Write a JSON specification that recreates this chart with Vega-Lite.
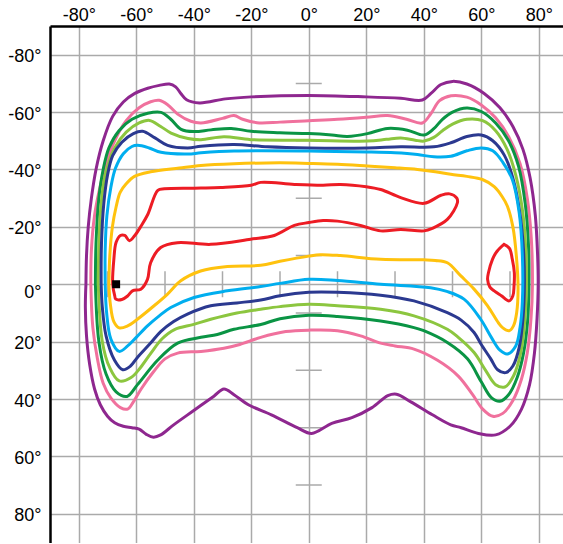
{
  "$schema": "https://vega.github.io/schema/vega-lite/v6.json",
  "width": 513,
  "height": 516.5,
  "autosize": {"type": "none"},
  "padding": {"left": 50, "top": 26, "right": 0, "bottom": 0},
  "config": {
    "view": {"stroke": null},
    "axis": {
      "labelFont": "Liberation Sans",
      "labelFontSize": 18,
      "labelColor": "#000000",
      "grid": true,
      "gridColor": "#aaaaaa",
      "gridWidth": 1.5,
      "ticks": false,
      "domain": true,
      "domainColor": "#000000",
      "domainWidth": 2.5,
      "title": null
    }
  },
  "datasets": {
    "ticksH": [{"lon": 0, "lat": -70}, {"lon": 0, "lat": -50}, {"lon": 0, "lat": -30}, {"lon": 0, "lat": -10}, {"lon": 0, "lat": 10}, {"lon": 0, "lat": 30}, {"lon": 0, "lat": 50}, {"lon": 0, "lat": 70}],
    "ticksV": [{"lon": -70, "lat": 0}, {"lon": -50, "lat": 0}, {"lon": -30, "lat": 0}, {"lon": -10, "lat": 0}, {"lon": 10, "lat": 0}, {"lon": 30, "lat": 0}, {"lon": 50, "lat": 0}, {"lon": 70, "lat": 0}],
    "marker": [{"lon": -67, "lat": 0}],
    "contours": [
      {"s":"P","i":0,"lon":-77.5,"lat":0},{"s":"P","i":1,"lon":-77.3,"lat":-10},{"s":"P","i":2,"lon":-76.7,"lat":-20},{"s":"P","i":3,"lon":-75.6,"lat":-30},{"s":"P","i":4,"lon":-74,"lat":-40},{"s":"P","i":5,"lon":-71.5,"lat":-50},{"s":"P","i":6,"lon":-68.2,"lat":-58.5},{"s":"P","i":7,"lon":-64.5,"lat":-63.5},{"s":"P","i":8,"lon":-60.5,"lat":-66.5},{"s":"P","i":9,"lon":-56,"lat":-68.3},{"s":"P","i":10,"lon":-52,"lat":-69.3},{"s":"P","i":11,"lon":-48.5,"lat":-69.8},{"s":"P","i":12,"lon":-46.3,"lat":-68.8},{"s":"P","i":13,"lon":-44.5,"lat":-66.5},{"s":"P","i":14,"lon":-42.5,"lat":-64.3},{"s":"P","i":15,"lon":-38,"lat":-63.2},{"s":"P","i":16,"lon":-29,"lat":-64.6},{"s":"P","i":17,"lon":-20,"lat":-65.3},{"s":"P","i":18,"lon":0,"lat":-65.8},{"s":"P","i":19,"lon":20,"lat":-65.3},{"s":"P","i":20,"lon":32,"lat":-64.8},{"s":"P","i":21,"lon":39.5,"lat":-64.2},{"s":"P","i":22,"lon":42.5,"lat":-66.5},{"s":"P","i":23,"lon":46,"lat":-69.6},{"s":"P","i":24,"lon":50,"lat":-70.7},{"s":"P","i":25,"lon":55,"lat":-69.8},{"s":"P","i":26,"lon":61,"lat":-66.5},{"s":"P","i":27,"lon":66.5,"lat":-61.5},{"s":"P","i":28,"lon":71,"lat":-55},{"s":"P","i":29,"lon":74.5,"lat":-47},{"s":"P","i":30,"lon":77,"lat":-37},{"s":"P","i":31,"lon":78.8,"lat":-24},{"s":"P","i":32,"lon":79.6,"lat":-10},{"s":"P","i":33,"lon":79.8,"lat":0},{"s":"P","i":34,"lon":79.4,"lat":12},{"s":"P","i":35,"lon":78.5,"lat":24},{"s":"P","i":36,"lon":76.8,"lat":35},{"s":"P","i":37,"lon":74,"lat":43.5},{"s":"P","i":38,"lon":70,"lat":49.5},{"s":"P","i":39,"lon":65,"lat":52.5},{"s":"P","i":40,"lon":59,"lat":52},{"s":"P","i":41,"lon":53,"lat":50},{"s":"P","i":42,"lon":49.4,"lat":49},{"s":"P","i":43,"lon":43,"lat":45.5},{"s":"P","i":44,"lon":35.5,"lat":41},{"s":"P","i":45,"lon":30.5,"lat":38.3},{"s":"P","i":46,"lon":27.5,"lat":38.8},{"s":"P","i":47,"lon":22,"lat":43},{"s":"P","i":48,"lon":15,"lat":46.5},{"s":"P","i":49,"lon":8,"lat":48.5},{"s":"P","i":50,"lon":1,"lat":52},{"s":"P","i":51,"lon":-4,"lat":50},{"s":"P","i":52,"lon":-13,"lat":45.5},{"s":"P","i":53,"lon":-21,"lat":42},{"s":"P","i":54,"lon":-26,"lat":38.5},{"s":"P","i":55,"lon":-29.5,"lat":36.5},{"s":"P","i":56,"lon":-33,"lat":39},{"s":"P","i":57,"lon":-40,"lat":44},{"s":"P","i":58,"lon":-47,"lat":49},{"s":"P","i":59,"lon":-51.5,"lat":52.5},{"s":"P","i":60,"lon":-54,"lat":53.3},{"s":"P","i":61,"lon":-56.5,"lat":52.3},{"s":"P","i":62,"lon":-59,"lat":50.5},{"s":"P","i":63,"lon":-61.5,"lat":50},{"s":"P","i":64,"lon":-64.5,"lat":49.5},{"s":"P","i":65,"lon":-67.5,"lat":48.3},{"s":"P","i":66,"lon":-70,"lat":46},{"s":"P","i":67,"lon":-72.5,"lat":42},{"s":"P","i":68,"lon":-74.5,"lat":36.5},{"s":"P","i":69,"lon":-76.2,"lat":28},{"s":"P","i":70,"lon":-77.3,"lat":18},{"s":"P","i":71,"lon":-77.7,"lat":8},{"s":"P","i":72,"lon":-77.5,"lat":0},

      {"s":"K","i":0,"lon":-75.8,"lat":0},{"s":"K","i":1,"lon":-75.6,"lat":-12},{"s":"K","i":2,"lon":-74.5,"lat":-24},{"s":"K","i":3,"lon":-72.8,"lat":-33},{"s":"K","i":4,"lon":-70.5,"lat":-42},{"s":"K","i":5,"lon":-67.5,"lat":-50},{"s":"K","i":6,"lon":-63.5,"lat":-57},{"s":"K","i":7,"lon":-59,"lat":-61.5},{"s":"K","i":8,"lon":-55,"lat":-63.6},{"s":"K","i":9,"lon":-52,"lat":-64.1},{"s":"K","i":10,"lon":-49,"lat":-62.5},{"s":"K","i":11,"lon":-45.6,"lat":-59.3},{"s":"K","i":12,"lon":-41,"lat":-56.8},{"s":"K","i":13,"lon":-37.5,"lat":-56.2},{"s":"K","i":14,"lon":-30,"lat":-57.8},{"s":"K","i":15,"lon":-26,"lat":-58.8},{"s":"K","i":16,"lon":-23,"lat":-57.5},{"s":"K","i":17,"lon":-18,"lat":-56.3},{"s":"K","i":18,"lon":-10,"lat":-56.5},{"s":"K","i":19,"lon":0,"lat":-57},{"s":"K","i":20,"lon":10,"lat":-57.5},{"s":"K","i":21,"lon":20,"lat":-58.2},{"s":"K","i":22,"lon":27.4,"lat":-58.8},{"s":"K","i":23,"lon":34,"lat":-57.5},{"s":"K","i":24,"lon":39.5,"lat":-56.2},{"s":"K","i":25,"lon":42.5,"lat":-59.5},{"s":"K","i":26,"lon":45.5,"lat":-64},{"s":"K","i":27,"lon":49.5,"lat":-65.7},{"s":"K","i":28,"lon":55,"lat":-65.2},{"s":"K","i":29,"lon":60,"lat":-62.5},{"s":"K","i":30,"lon":65,"lat":-58},{"s":"K","i":31,"lon":69.5,"lat":-51.5},{"s":"K","i":32,"lon":73.5,"lat":-42},{"s":"K","i":33,"lon":76,"lat":-30},{"s":"K","i":34,"lon":77.4,"lat":-16},{"s":"K","i":35,"lon":77.8,"lat":0},{"s":"K","i":36,"lon":77.3,"lat":12},{"s":"K","i":37,"lon":76,"lat":24},{"s":"K","i":38,"lon":74,"lat":33},{"s":"K","i":39,"lon":71,"lat":40.5},{"s":"K","i":40,"lon":67.5,"lat":45},{"s":"K","i":41,"lon":64,"lat":46},{"s":"K","i":42,"lon":60.5,"lat":43.5},{"s":"K","i":43,"lon":57,"lat":38.5},{"s":"K","i":44,"lon":52,"lat":32},{"s":"K","i":45,"lon":44.8,"lat":26.5},{"s":"K","i":46,"lon":36.6,"lat":22.6},{"s":"K","i":47,"lon":30,"lat":21.5},{"s":"K","i":48,"lon":25,"lat":20.5},{"s":"K","i":49,"lon":18,"lat":18},{"s":"K","i":50,"lon":10,"lat":16.2},{"s":"K","i":51,"lon":0,"lat":16},{"s":"K","i":52,"lon":-8,"lat":16.5},{"s":"K","i":53,"lon":-16.7,"lat":18.5},{"s":"K","i":54,"lon":-24,"lat":21},{"s":"K","i":55,"lon":-29.5,"lat":22.3},{"s":"K","i":56,"lon":-37.5,"lat":23.4},{"s":"K","i":57,"lon":-45.6,"lat":24},{"s":"K","i":58,"lon":-50,"lat":26},{"s":"K","i":59,"lon":-54,"lat":30.5},{"s":"K","i":60,"lon":-58.3,"lat":36.5},{"s":"K","i":61,"lon":-61,"lat":41},{"s":"K","i":62,"lon":-63,"lat":43.5},{"s":"K","i":63,"lon":-65.5,"lat":43},{"s":"K","i":64,"lon":-68.8,"lat":39.7},{"s":"K","i":65,"lon":-71.5,"lat":34.5},{"s":"K","i":66,"lon":-73.5,"lat":26},{"s":"K","i":67,"lon":-75.1,"lat":15},{"s":"K","i":68,"lon":-75.8,"lat":0},

      {"s":"G","i":0,"lon":-74.2,"lat":0},{"s":"G","i":1,"lon":-74,"lat":-14},{"s":"G","i":2,"lon":-73,"lat":-30},{"s":"G","i":3,"lon":-71.5,"lat":-40},{"s":"G","i":4,"lon":-69.5,"lat":-47.5},{"s":"G","i":5,"lon":-66,"lat":-53.5},{"s":"G","i":6,"lon":-61.5,"lat":-57.5},{"s":"G","i":7,"lon":-56,"lat":-59.6},{"s":"G","i":8,"lon":-51.4,"lat":-59.9},{"s":"G","i":9,"lon":-48,"lat":-57.5},{"s":"G","i":10,"lon":-44.4,"lat":-54},{"s":"G","i":11,"lon":-40,"lat":-53.2},{"s":"G","i":12,"lon":-34,"lat":-53.8},{"s":"G","i":13,"lon":-27,"lat":-54.3},{"s":"G","i":14,"lon":-20,"lat":-53.3},{"s":"G","i":15,"lon":-10,"lat":-52.8},{"s":"G","i":16,"lon":0,"lat":-52.5},{"s":"G","i":17,"lon":8,"lat":-52},{"s":"G","i":18,"lon":13.5,"lat":-51.5},{"s":"G","i":19,"lon":20.4,"lat":-52.5},{"s":"G","i":20,"lon":27.4,"lat":-54.3},{"s":"G","i":21,"lon":34.3,"lat":-53.7},{"s":"G","i":22,"lon":40.1,"lat":-52},{"s":"G","i":23,"lon":43.5,"lat":-54.2},{"s":"G","i":24,"lon":46.5,"lat":-57.5},{"s":"G","i":25,"lon":50,"lat":-60},{"s":"G","i":26,"lon":55,"lat":-61.4},{"s":"G","i":27,"lon":60,"lat":-60.2},{"s":"G","i":28,"lon":65,"lat":-56.2},{"s":"G","i":29,"lon":69.5,"lat":-50},{"s":"G","i":30,"lon":73,"lat":-41},{"s":"G","i":31,"lon":75.3,"lat":-28},{"s":"G","i":32,"lon":76.4,"lat":-14},{"s":"G","i":33,"lon":76.6,"lat":0},{"s":"G","i":34,"lon":76.1,"lat":13},{"s":"G","i":35,"lon":74.7,"lat":24},{"s":"G","i":36,"lon":72.5,"lat":32.5},{"s":"G","i":37,"lon":69.5,"lat":38.5},{"s":"G","i":38,"lon":66.5,"lat":40.8},{"s":"G","i":39,"lon":63.5,"lat":39.5},{"s":"G","i":40,"lon":60,"lat":34},{"s":"G","i":41,"lon":55.2,"lat":26},{"s":"G","i":42,"lon":48.2,"lat":20.3},{"s":"G","i":43,"lon":40,"lat":16.2},{"s":"G","i":44,"lon":36.6,"lat":15.1},{"s":"G","i":45,"lon":25,"lat":12.8},{"s":"G","i":46,"lon":10,"lat":11.2},{"s":"G","i":47,"lon":0,"lat":10.8},{"s":"G","i":48,"lon":-10,"lat":12},{"s":"G","i":49,"lon":-16.7,"lat":14},{"s":"G","i":50,"lon":-26,"lat":15.7},{"s":"G","i":51,"lon":-31.8,"lat":17.5},{"s":"G","i":52,"lon":-37.5,"lat":18.5},{"s":"G","i":53,"lon":-45.6,"lat":20.5},{"s":"G","i":54,"lon":-52.5,"lat":26.4},{"s":"G","i":55,"lon":-59.5,"lat":34.9},{"s":"G","i":56,"lon":-63.2,"lat":39.1},{"s":"G","i":57,"lon":-67,"lat":37.5},{"s":"G","i":58,"lon":-70.5,"lat":31.3},{"s":"G","i":59,"lon":-73,"lat":20},{"s":"G","i":60,"lon":-74.2,"lat":0},

      {"s":"L","i":0,"lon":-73.2,"lat":0},{"s":"L","i":1,"lon":-73,"lat":-14},{"s":"L","i":2,"lon":-72.3,"lat":-27},{"s":"L","i":3,"lon":-70.8,"lat":-38},{"s":"L","i":4,"lon":-67.5,"lat":-47.5},{"s":"L","i":5,"lon":-63.5,"lat":-53},{"s":"L","i":6,"lon":-59,"lat":-56.2},{"s":"L","i":7,"lon":-55.4,"lat":-57.1},{"s":"L","i":8,"lon":-51.5,"lat":-55},{"s":"L","i":9,"lon":-47.9,"lat":-52.7},{"s":"L","i":10,"lon":-42,"lat":-50.8},{"s":"L","i":11,"lon":-37.5,"lat":-50.4},{"s":"L","i":12,"lon":-29.5,"lat":-51.4},{"s":"L","i":13,"lon":-20.2,"lat":-50.4},{"s":"L","i":14,"lon":0,"lat":-50.2},{"s":"L","i":15,"lon":20.4,"lat":-49.9},{"s":"L","i":16,"lon":27,"lat":-50.5},{"s":"L","i":17,"lon":32,"lat":-51},{"s":"L","i":18,"lon":37,"lat":-50.2},{"s":"L","i":19,"lon":40.1,"lat":-49.9},{"s":"L","i":20,"lon":43.5,"lat":-51.2},{"s":"L","i":21,"lon":46.5,"lat":-53.5},{"s":"L","i":22,"lon":50,"lat":-55.8},{"s":"L","i":23,"lon":55,"lat":-57.5},{"s":"L","i":24,"lon":60.5,"lat":-57},{"s":"L","i":25,"lon":65,"lat":-53.5},{"s":"L","i":26,"lon":69,"lat":-47},{"s":"L","i":27,"lon":72,"lat":-38},{"s":"L","i":28,"lon":74.3,"lat":-26},{"s":"L","i":29,"lon":75.5,"lat":-12},{"s":"L","i":30,"lon":75.7,"lat":0},{"s":"L","i":31,"lon":75.1,"lat":13},{"s":"L","i":32,"lon":73.7,"lat":24},{"s":"L","i":33,"lon":71.2,"lat":32},{"s":"L","i":34,"lon":68.2,"lat":35.8},{"s":"L","i":35,"lon":65,"lat":35},{"s":"L","i":36,"lon":61.5,"lat":30},{"s":"L","i":37,"lon":57.5,"lat":23.8},{"s":"L","i":38,"lon":52,"lat":18.5},{"s":"L","i":39,"lon":48.2,"lat":15.7},{"s":"L","i":40,"lon":36.6,"lat":11},{"s":"L","i":41,"lon":25,"lat":8.7},{"s":"L","i":42,"lon":10,"lat":7.5},{"s":"L","i":43,"lon":0,"lat":7},{"s":"L","i":44,"lon":-10,"lat":7.8},{"s":"L","i":45,"lon":-16.7,"lat":8.7},{"s":"L","i":46,"lon":-25,"lat":10},{"s":"L","i":47,"lon":-34.1,"lat":12.2},{"s":"L","i":48,"lon":-40,"lat":14},{"s":"L","i":49,"lon":-46.7,"lat":15.8},{"s":"L","i":50,"lon":-51,"lat":19},{"s":"L","i":51,"lon":-54.9,"lat":24},{"s":"L","i":52,"lon":-58.5,"lat":29},{"s":"L","i":53,"lon":-61.8,"lat":32.5},{"s":"L","i":54,"lon":-65.9,"lat":33.7},{"s":"L","i":55,"lon":-69.3,"lat":28.9},{"s":"L","i":56,"lon":-71.8,"lat":20},{"s":"L","i":57,"lon":-73.2,"lat":0},

      {"s":"B","i":0,"lon":-72.2,"lat":0},{"s":"B","i":1,"lon":-72.1,"lat":-14},{"s":"B","i":2,"lon":-71.3,"lat":-28},{"s":"B","i":3,"lon":-70,"lat":-38},{"s":"B","i":4,"lon":-68.2,"lat":-44.8},{"s":"B","i":5,"lon":-65,"lat":-49.5},{"s":"B","i":6,"lon":-61,"lat":-52.5},{"s":"B","i":7,"lon":-57.8,"lat":-53.3},{"s":"B","i":8,"lon":-53.5,"lat":-51},{"s":"B","i":9,"lon":-49.1,"lat":-48.4},{"s":"B","i":10,"lon":-42.1,"lat":-47.5},{"s":"B","i":11,"lon":-37.5,"lat":-48.1},{"s":"B","i":12,"lon":-26,"lat":-48.7},{"s":"B","i":13,"lon":-14.3,"lat":-47.9},{"s":"B","i":14,"lon":0,"lat":-47.5},{"s":"B","i":15,"lon":20.4,"lat":-47.5},{"s":"B","i":16,"lon":32,"lat":-47.9},{"s":"B","i":17,"lon":43.5,"lat":-47.9},{"s":"B","i":18,"lon":49.4,"lat":-49.3},{"s":"B","i":19,"lon":55,"lat":-51.5},{"s":"B","i":20,"lon":60,"lat":-52},{"s":"B","i":21,"lon":64,"lat":-50},{"s":"B","i":22,"lon":68,"lat":-45},{"s":"B","i":23,"lon":71,"lat":-37},{"s":"B","i":24,"lon":73.4,"lat":-25},{"s":"B","i":25,"lon":74.7,"lat":-12},{"s":"B","i":26,"lon":75,"lat":0},{"s":"B","i":27,"lon":74.5,"lat":12},{"s":"B","i":28,"lon":73.2,"lat":22},{"s":"B","i":29,"lon":71,"lat":28.5},{"s":"B","i":30,"lon":68.5,"lat":30.8},{"s":"B","i":31,"lon":65.7,"lat":29.8},{"s":"B","i":32,"lon":63.3,"lat":26},{"s":"B","i":33,"lon":60,"lat":21},{"s":"B","i":34,"lon":57.5,"lat":16.8},{"s":"B","i":35,"lon":53,"lat":12.5},{"s":"B","i":36,"lon":48.2,"lat":9.9},{"s":"B","i":37,"lon":36.6,"lat":5.8},{"s":"B","i":38,"lon":25,"lat":3.8},{"s":"B","i":39,"lon":10,"lat":2.8},{"s":"B","i":40,"lon":0,"lat":2.8},{"s":"B","i":41,"lon":-10,"lat":4},{"s":"B","i":42,"lon":-16.7,"lat":5.5},{"s":"B","i":43,"lon":-25,"lat":6.5},{"s":"B","i":44,"lon":-34.1,"lat":7.5},{"s":"B","i":45,"lon":-42.2,"lat":10.4},{"s":"B","i":46,"lon":-47,"lat":13},{"s":"B","i":47,"lon":-51.5,"lat":16.5},{"s":"B","i":48,"lon":-55,"lat":20.5},{"s":"B","i":49,"lon":-59.6,"lat":25.5},{"s":"B","i":50,"lon":-62,"lat":28.5},{"s":"B","i":51,"lon":-64.7,"lat":29.8},{"s":"B","i":52,"lon":-67.6,"lat":26.4},{"s":"B","i":53,"lon":-70.5,"lat":18},{"s":"B","i":54,"lon":-71.8,"lat":8},{"s":"B","i":55,"lon":-72.2,"lat":0},

      {"s":"C","i":0,"lon":-70.8,"lat":0},{"s":"C","i":1,"lon":-70.8,"lat":-12.2},{"s":"C","i":2,"lon":-70.2,"lat":-24},{"s":"C","i":3,"lon":-68.8,"lat":-34},{"s":"C","i":4,"lon":-67.2,"lat":-40.5},{"s":"C","i":5,"lon":-64.5,"lat":-45.5},{"s":"C","i":6,"lon":-61.5,"lat":-48},{"s":"C","i":7,"lon":-59.5,"lat":-48.4},{"s":"C","i":8,"lon":-55.5,"lat":-47.5},{"s":"C","i":9,"lon":-51.4,"lat":-46},{"s":"C","i":10,"lon":-42.1,"lat":-45.4},{"s":"C","i":11,"lon":-37.5,"lat":-45.8},{"s":"C","i":12,"lon":-26,"lat":-46.4},{"s":"C","i":13,"lon":0,"lat":-46.4},{"s":"C","i":14,"lon":20.4,"lat":-46.1},{"s":"C","i":15,"lon":30,"lat":-45.8},{"s":"C","i":16,"lon":37.8,"lat":-45.2},{"s":"C","i":17,"lon":43.5,"lat":-44.4},{"s":"C","i":18,"lon":49.4,"lat":-44.6},{"s":"C","i":19,"lon":55,"lat":-46.5},{"s":"C","i":20,"lon":60,"lat":-47.5},{"s":"C","i":21,"lon":64,"lat":-46.5},{"s":"C","i":22,"lon":67.5,"lat":-42.5},{"s":"C","i":23,"lon":70.8,"lat":-36.5},{"s":"C","i":24,"lon":73.2,"lat":-24.9},{"s":"C","i":25,"lon":74.3,"lat":-10},{"s":"C","i":26,"lon":74.3,"lat":6},{"s":"C","i":27,"lon":73.5,"lat":15},{"s":"C","i":28,"lon":72,"lat":21.5},{"s":"C","i":29,"lon":69.1,"lat":24.3},{"s":"C","i":30,"lon":66.5,"lat":23},{"s":"C","i":31,"lon":63.5,"lat":18.5},{"s":"C","i":32,"lon":59.8,"lat":12.2},{"s":"C","i":33,"lon":54,"lat":5.2},{"s":"C","i":34,"lon":48,"lat":2.5},{"s":"C","i":35,"lon":42.4,"lat":1.2},{"s":"C","i":36,"lon":25,"lat":0},{"s":"C","i":37,"lon":10,"lat":-1.3},{"s":"C","i":38,"lon":0,"lat":-1.7},{"s":"C","i":39,"lon":-10,"lat":-0.3},{"s":"C","i":40,"lon":-16.7,"lat":0.8},{"s":"C","i":41,"lon":-28.3,"lat":2.3},{"s":"C","i":42,"lon":-39.9,"lat":4.6},{"s":"C","i":43,"lon":-48,"lat":8.1},{"s":"C","i":44,"lon":-52,"lat":11},{"s":"C","i":45,"lon":-56.1,"lat":14.5},{"s":"C","i":46,"lon":-60,"lat":18.5},{"s":"C","i":47,"lon":-63,"lat":21.5},{"s":"C","i":48,"lon":-65.9,"lat":23.4},{"s":"C","i":49,"lon":-68.8,"lat":19.2},{"s":"C","i":50,"lon":-70.3,"lat":10},{"s":"C","i":51,"lon":-70.8,"lat":0},

      {"s":"Y","i":0,"lon":-69.5,"lat":0},{"s":"Y","i":1,"lon":-69.2,"lat":-10},{"s":"Y","i":2,"lon":-68.3,"lat":-20},{"s":"Y","i":3,"lon":-67,"lat":-27},{"s":"Y","i":4,"lon":-65.6,"lat":-32},{"s":"Y","i":5,"lon":-63.5,"lat":-35},{"s":"Y","i":6,"lon":-60.6,"lat":-37.6},{"s":"Y","i":7,"lon":-55,"lat":-39.2},{"s":"Y","i":8,"lon":-45,"lat":-40.5},{"s":"Y","i":9,"lon":-37.5,"lat":-41.4},{"s":"Y","i":10,"lon":-26,"lat":-42},{"s":"Y","i":11,"lon":-10,"lat":-42.3},{"s":"Y","i":12,"lon":0,"lat":-42.1},{"s":"Y","i":13,"lon":10,"lat":-41.8},{"s":"Y","i":14,"lon":20.4,"lat":-41.2},{"s":"Y","i":15,"lon":30,"lat":-40.6},{"s":"Y","i":16,"lon":37.8,"lat":-40},{"s":"Y","i":17,"lon":44,"lat":-39.2},{"s":"Y","i":18,"lon":49.4,"lat":-38.3},{"s":"Y","i":19,"lon":55,"lat":-37.6},{"s":"Y","i":20,"lon":60.4,"lat":-36.5},{"s":"Y","i":21,"lon":64.5,"lat":-34},{"s":"Y","i":22,"lon":67.3,"lat":-30.5},{"s":"Y","i":23,"lon":69.1,"lat":-27.2},{"s":"Y","i":24,"lon":71,"lat":-20},{"s":"Y","i":25,"lon":72.2,"lat":-10},{"s":"Y","i":26,"lon":72.8,"lat":1.7},{"s":"Y","i":27,"lon":72.3,"lat":10},{"s":"Y","i":28,"lon":71.2,"lat":14.5},{"s":"Y","i":29,"lon":69.7,"lat":16.2},{"s":"Y","i":30,"lon":67.5,"lat":15.2},{"s":"Y","i":31,"lon":66,"lat":13.5},{"s":"Y","i":32,"lon":62.2,"lat":7.5},{"s":"Y","i":33,"lon":57.5,"lat":1.7},{"s":"Y","i":34,"lon":52.9,"lat":-2.9},{"s":"Y","i":35,"lon":48.2,"lat":-7.5},{"s":"Y","i":36,"lon":44,"lat":-8.3},{"s":"Y","i":37,"lon":40.1,"lat":-8.5},{"s":"Y","i":38,"lon":25,"lat":-8.7},{"s":"Y","i":39,"lon":11,"lat":-10},{"s":"Y","i":40,"lon":4,"lat":-10.3},{"s":"Y","i":41,"lon":0,"lat":-9.8},{"s":"Y","i":42,"lon":-10,"lat":-8},{"s":"Y","i":43,"lon":-16.7,"lat":-6.6},{"s":"Y","i":44,"lon":-28.3,"lat":-6.2},{"s":"Y","i":45,"lon":-37.6,"lat":-4.6},{"s":"Y","i":46,"lon":-44.5,"lat":-1.2},{"s":"Y","i":47,"lon":-49.2,"lat":3.5},{"s":"Y","i":48,"lon":-53.8,"lat":7.5},{"s":"Y","i":49,"lon":-59.6,"lat":12.2},{"s":"Y","i":50,"lon":-63,"lat":14.5},{"s":"Y","i":51,"lon":-65.9,"lat":15.2},{"s":"Y","i":52,"lon":-67.8,"lat":13},{"s":"Y","i":53,"lon":-69,"lat":7},{"s":"Y","i":54,"lon":-69.5,"lat":0},

      {"s":"R1","i":0,"lon":-67.5,"lat":4},{"s":"R1","i":1,"lon":-68.2,"lat":0},{"s":"R1","i":2,"lon":-67.8,"lat":-8.6},{"s":"R1","i":3,"lon":-67,"lat":-14.6},{"s":"R1","i":4,"lon":-65.5,"lat":-17},{"s":"R1","i":5,"lon":-64,"lat":-17},{"s":"R1","i":6,"lon":-62.4,"lat":-15.2},{"s":"R1","i":7,"lon":-60.5,"lat":-17},{"s":"R1","i":8,"lon":-58.5,"lat":-20},{"s":"R1","i":9,"lon":-56,"lat":-24.3},{"s":"R1","i":10,"lon":-52.5,"lat":-32.7},{"s":"R1","i":11,"lon":-50.2,"lat":-33.3},{"s":"R1","i":12,"lon":-37.5,"lat":-33.5},{"s":"R1","i":13,"lon":-30.6,"lat":-33.7},{"s":"R1","i":14,"lon":-20,"lat":-34.5},{"s":"R1","i":15,"lon":-16.7,"lat":-35.5},{"s":"R1","i":16,"lon":-5,"lat":-34.8},{"s":"R1","i":17,"lon":5,"lat":-34.5},{"s":"R1","i":18,"lon":11,"lat":-34.8},{"s":"R1","i":19,"lon":20,"lat":-34},{"s":"R1","i":20,"lon":25,"lat":-33},{"s":"R1","i":21,"lon":32,"lat":-30.2},{"s":"R1","i":22,"lon":40.1,"lat":-28.2},{"s":"R1","i":23,"lon":46,"lat":-31},{"s":"R1","i":24,"lon":49,"lat":-31.5},{"s":"R1","i":25,"lon":51.5,"lat":-30},{"s":"R1","i":26,"lon":51.7,"lat":-28.4},{"s":"R1","i":27,"lon":48.2,"lat":-22.6},{"s":"R1","i":28,"lon":43,"lat":-19.5},{"s":"R1","i":29,"lon":40.1,"lat":-18.6},{"s":"R1","i":30,"lon":32,"lat":-19.1},{"s":"R1","i":31,"lon":25,"lat":-18.6},{"s":"R1","i":32,"lon":18,"lat":-20.5},{"s":"R1","i":33,"lon":10,"lat":-22},{"s":"R1","i":34,"lon":5,"lat":-22.2},{"s":"R1","i":35,"lon":0,"lat":-21.5},{"s":"R1","i":36,"lon":-5,"lat":-20.5},{"s":"R1","i":37,"lon":-12,"lat":-17},{"s":"R1","i":38,"lon":-20.2,"lat":-15.7},{"s":"R1","i":39,"lon":-34.1,"lat":-13.9},{"s":"R1","i":40,"lon":-45.7,"lat":-14.5},{"s":"R1","i":41,"lon":-51.5,"lat":-12.8},{"s":"R1","i":42,"lon":-55,"lat":-7.5},{"s":"R1","i":43,"lon":-56.1,"lat":-1.7},{"s":"R1","i":44,"lon":-58.4,"lat":1.7},{"s":"R1","i":45,"lon":-61.3,"lat":2.3},{"s":"R1","i":46,"lon":-63,"lat":4.1},{"s":"R1","i":47,"lon":-65,"lat":5.3},{"s":"R1","i":48,"lon":-67.1,"lat":5.2},{"s":"R1","i":49,"lon":-67.5,"lat":4},

      {"s":"R2","i":0,"lon":67.9,"lat":-13.9},{"s":"R2","i":1,"lon":65.5,"lat":-11.5},{"s":"R2","i":2,"lon":63.9,"lat":-8.7},{"s":"R2","i":3,"lon":62.5,"lat":-4},{"s":"R2","i":4,"lon":62.2,"lat":-1.7},{"s":"R2","i":5,"lon":63,"lat":1},{"s":"R2","i":6,"lon":64.5,"lat":2.3},{"s":"R2","i":7,"lon":67,"lat":4},{"s":"R2","i":8,"lon":69.7,"lat":5.8},{"s":"R2","i":9,"lon":71,"lat":4},{"s":"R2","i":10,"lon":71.4,"lat":0.6},{"s":"R2","i":11,"lon":71.5,"lat":-4},{"s":"R2","i":12,"lon":70.8,"lat":-8.7},{"s":"R2","i":13,"lon":69.8,"lat":-12.5},{"s":"R2","i":14,"lon":67.9,"lat":-13.9}
    ]
  },
  "layer": [
    {
      "data": {"name": "ticksH"},
      "mark": {"type": "tick", "orient": "horizontal", "size": 26, "thickness": 1.5, "color": "#aaaaaa", "opacity": 1},
      "encoding": {
        "x": {"field": "lon", "type": "quantitative", "scale": {"domain": [-90, 88.43], "nice": false, "zero": false},
          "axis": {"orient": "top", "values": [-80, -60, -40, -20, 0, 20, 40, 60, 80], "labelExpr": "datum.value + '°'", "labelPadding": 6, "labelBaseline": "alphabetic", "labelDx": 3.6}},
        "y": {"field": "lat", "type": "quantitative", "scale": {"domain": [-90, 90], "nice": false, "zero": false, "reverse": true},
          "axis": {"orient": "left", "values": [-80, -60, -40, -20, 0, 20, 40, 60, 80], "labelExpr": "datum.value + '°'", "labelPadding": 9, "labelBaseline": "middle", "labelOffset": {"condition": {"test": "datum.value === 0", "value": 8}, "value": 2}}}
      }
    },
    {
      "data": {"name": "ticksV"},
      "mark": {"type": "tick", "orient": "vertical", "size": 26, "thickness": 1.5, "color": "#aaaaaa", "opacity": 1},
      "encoding": {
        "x": {"field": "lon", "type": "quantitative"},
        "y": {"field": "lat", "type": "quantitative"}
      }
    },
    {
      "mark": {"type": "rule", "color": "#000000", "strokeWidth": 1.5, "strokeDash": [5, 4]},
      "encoding": {"x": {"datum": -67}}
    },
    {
      "mark": {"type": "rule", "color": "#000000", "strokeWidth": 1.5, "strokeDash": [5, 4]},
      "encoding": {"y": {"datum": 0}}
    },
    {
      "mark": {"type": "rule", "color": "#000000", "strokeWidth": 2.5},
      "encoding": {"y": {"datum": 90}}
    },
    {
      "data": {"name": "contours"},
      "mark": {"type": "line", "interpolate": "catmull-rom", "strokeWidth": 3, "strokeCap": "round", "strokeJoin": "round"},
      "encoding": {
        "x": {"field": "lon", "type": "quantitative"},
        "y": {"field": "lat", "type": "quantitative"},
        "order": {"field": "i", "type": "quantitative"},
        "detail": {"field": "s", "type": "nominal"},
        "color": {"field": "s", "type": "nominal", "legend": null,
          "scale": {"domain": ["P", "K", "G", "L", "B", "C", "Y", "R1", "R2"],
                    "range": ["#8e278f", "#f0719d", "#0a9444", "#8cc63f", "#2b3990", "#00aeef", "#ffc20e", "#ed1c24", "#ed1c24"]}}
      }
    },
    {
      "data": {"name": "marker"},
      "mark": {"type": "point", "shape": "square", "size": 64, "filled": true, "color": "#000000", "opacity": 1},
      "encoding": {
        "x": {"field": "lon", "type": "quantitative"},
        "y": {"field": "lat", "type": "quantitative"}
      }
    }
  ]
}
